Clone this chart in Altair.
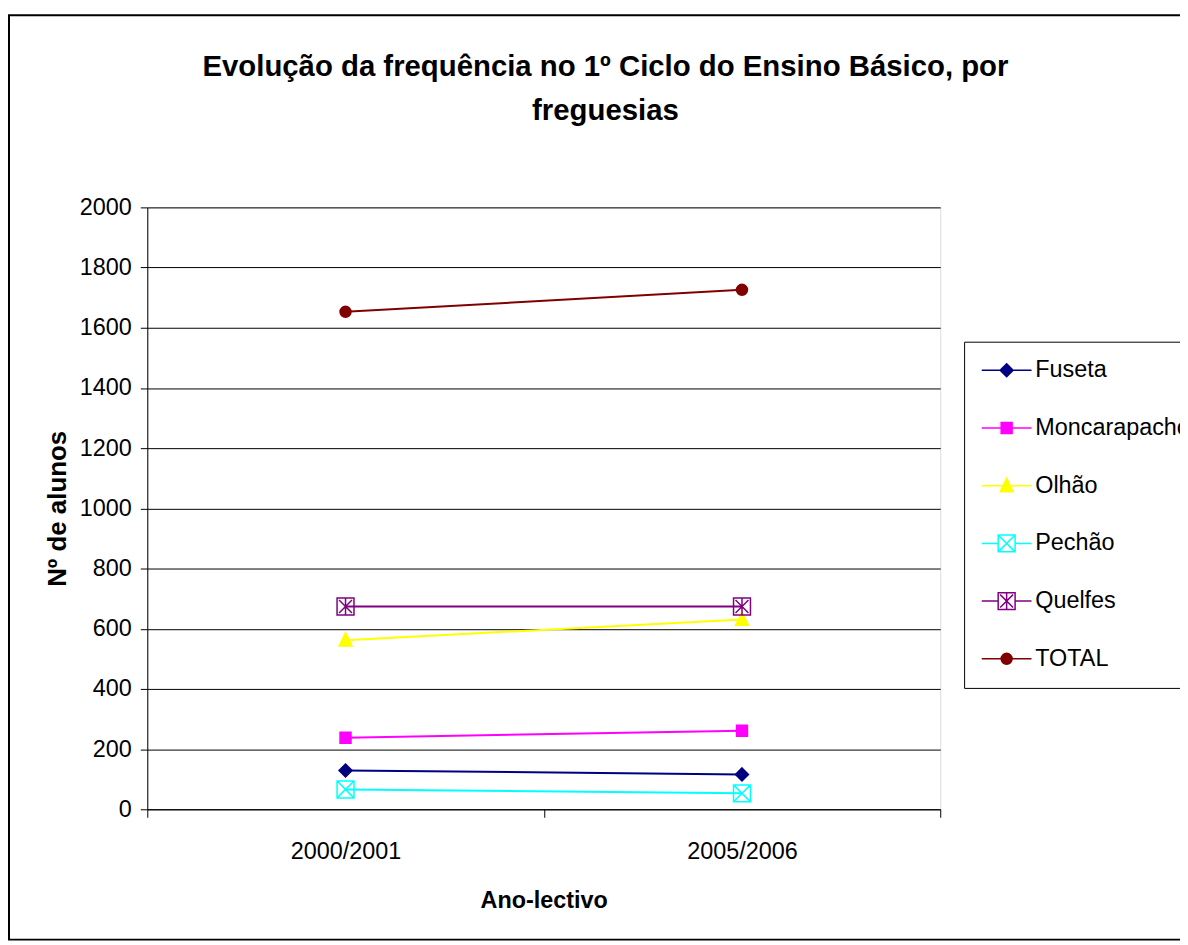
import altair as alt
import pandas as pd

# ---- data ----
years = ["2000/2001", "2005/2006"]
series = ["Fuseta", "Moncarapacho", "Olhão", "Pechão", "Quelfes", "TOTAL"]
alunos_2000 = [129, 238, 562, 66, 674, 1653]
alunos_2005 = [116, 261, 631, 53, 674, 1726]

colors = ["#000080", "#FF00FF", "#FFFF00", "#00FFFF", "#800080", "#800000"]
fills = ["#000080", "#FF00FF", "#FFFF00", "transparent", "transparent", "#800000"]

rows = []
for i, s in enumerate(series):
    rows.append({"ano": years[0], "serie": s, "alunos": alunos_2000[i]})
    rows.append({"ano": years[1], "serie": s, "alunos": alunos_2005[i]})
df = pd.DataFrame(rows)

FONT = "Liberation Sans"

# marker shapes, drawn at symbol size 100 (1 unit = 5 px)
m_diamond = "M0,-1.3L1.3,0L0,1.3L-1.3,0Z"
m_square = "M-1.1,-1.1H1.1V1.1H-1.1Z"
m_triangle = "M0,-1.5L1.3,1.2L-1.3,1.2Z"
m_box_x = "M-1.7,-1.7H1.7V1.7H-1.7ZM-1.7,-1.7L1.7,1.7M1.7,-1.7L-1.7,1.7"
m_box_star = "M-1.7,-1.7H1.7V1.7H-1.7ZM-1.3,-1.3L1.3,1.3M1.3,-1.3L-1.3,1.3M0,-1.7V1.7"
m_circle = "M-1.1,0A1.1,1.1 0 1,0 1.1,0A1.1,1.1 0 1,0 -1.1,0Z"
plot_shapes = [m_diamond, m_square, m_triangle, m_box_x, m_box_star, m_circle]

# legend symbols: the same markers with the series line through them
full_line = "M-5,0H5"
box_line = "M-5,0H-1.7M1.7,0H5"
leg_shapes = [
    full_line + m_diamond,
    full_line + m_square,
    full_line + m_triangle,
    box_line + m_box_x,
    box_line + m_box_star,
    full_line + m_circle,
]

x_enc = alt.X(
    "ano:O",
    title="Ano-lectivo",
    scale=alt.Scale(type="band", paddingInner=0, paddingOuter=0),
    axis=alt.Axis(
        labelAngle=0, tickBand="extent", grid=False,
        domainColor="black", tickColor="black", tickSize=8,
        labelPadding=22, labelFontSize=23.5, labelFont=FONT, labelColor="black",
        titleFontSize=23.5, titleFont=FONT, titleFontWeight="bold",
        titleColor="black", titlePadding=26,
    ),
)
y_enc = alt.Y(
    "alunos:Q",
    title="Nº de alunos",
    scale=alt.Scale(domain=[0, 2000]),
    axis=alt.Axis(
        values=list(range(0, 2001, 200)), format="d", grid=True, gridColor="black",
        gridWidth=1, gridOpacity=1, domainColor="black", tickColor="black",
        tickSize=7, labelPadding=9, labelFontSize=23.5, labelFont=FONT,
        labelColor="black", titleFontSize=26, titleFont=FONT,
        titleFontWeight="bold", titleColor="black", titlePadding=9,
    ),
)

base = alt.Chart(df)

lines = base.mark_line(strokeWidth=2).encode(
    x=x_enc, y=y_enc,
    color=alt.Color("serie:N", scale=alt.Scale(domain=series, range=colors), legend=None),
)

points = base.mark_point(opacity=1, strokeWidth=1.5, size=100).encode(
    x=x_enc, y=y_enc,
    shape=alt.Shape("serie:N", scale=alt.Scale(domain=series, range=plot_shapes), legend=None),
    fill=alt.Fill("serie:N", scale=alt.Scale(domain=series, range=fills), legend=None),
    stroke=alt.Stroke("serie:N", scale=alt.Scale(domain=series, range=colors), legend=None),
)

leg = alt.Legend(
    orient="none", legendX=821, legendY=135, fillColor="white",
    strokeColor="black", padding=17, symbolOffset=14, labelOffset=17,
    rowPadding=33, labelFontSize=23.5, labelFont=FONT, labelColor="black",
    symbolSize=100, symbolStrokeWidth=1.5, labelLimit=400,
)
legend_layer = base.transform_filter("false").mark_point(opacity=1, strokeWidth=1.5).encode(
    x=x_enc, y=y_enc,
    shape=alt.Shape("serie:N", scale=alt.Scale(domain=series, range=leg_shapes), legend=leg, title=None),
    fill=alt.Fill("serie:N", scale=alt.Scale(domain=series, range=fills), legend=leg, title=None),
    stroke=alt.Stroke("serie:N", scale=alt.Scale(domain=series, range=colors), legend=leg, title=None),
)

frame = alt.Chart(alt.Data(values=[{"k": 1}])).mark_rect(
    fillOpacity=0, stroke="black", strokeWidth=2
).encode(
    x=alt.value(-139), x2=alt.value(1100), y=alt.value(-193), y2=alt.value(736)
)

chart = alt.layer(frame, lines, points, legend_layer).resolve_scale(
    color="independent", shape="independent", fill="independent",
    stroke="independent",
).properties(
    width=797, height=605,
    autosize=alt.AutoSizeParams(type="none"),
    padding={"left": 140, "top": 198, "right": 241, "bottom": 134},
    title=alt.TitleParams(
        text=["Evolução da frequência no 1º Ciclo do Ensino Básico, por", "freguesias"],
        anchor="middle", dx=62, dy=113, font=FONT, fontSize=29.5, fontWeight="bold",
        color="black", lineHeight=45, offset=0,
    ),
).configure_view(
    fill="#C0C0C0", stroke="#808080", strokeWidth=2
).configure(background="white")

chart.save("out.html", embed_options={"renderer": "svg", "actions": False})
